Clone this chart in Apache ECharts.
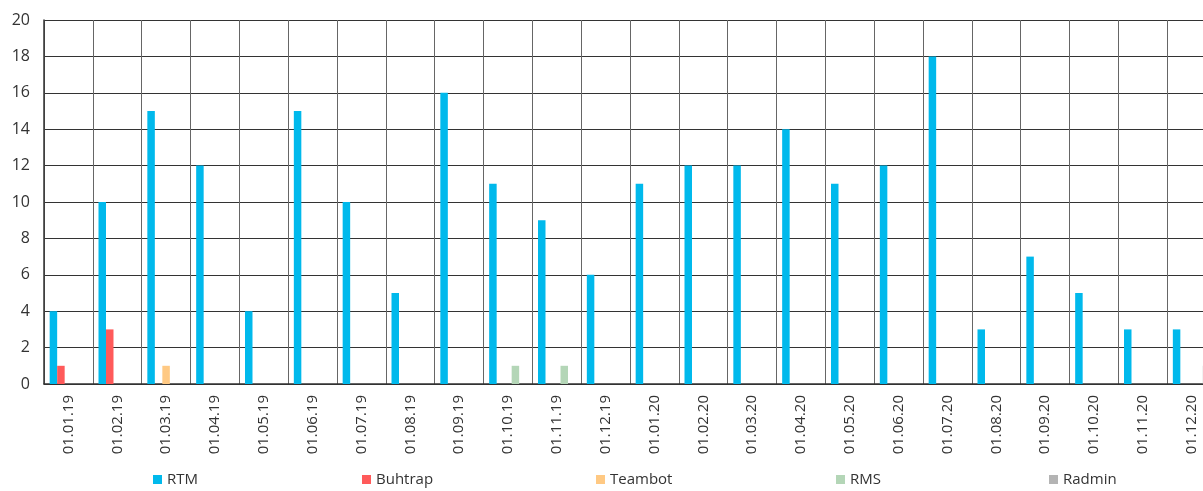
<!DOCTYPE html>
<html>
<head>
<meta charset="utf-8">
<script src="https://cdn.jsdelivr.net/npm/echarts@6/dist/echarts.min.js"></script>
<style>
  html, body { margin: 0; padding: 0; background: #fff; }
  #chart { width: 1203px; height: 491px; }
</style>
</head>
<body>
<div id="chart"></div>
<script>
// Monthly counts per tool family
const months = ['01.01.19','01.02.19','01.03.19','01.04.19','01.05.19','01.06.19','01.07.19','01.08.19',
  '01.09.19','01.10.19','01.11.19','01.12.19','01.01.20','01.02.20','01.03.20','01.04.20',
  '01.05.20','01.06.20','01.07.20','01.08.20','01.09.20','01.10.20','01.11.20','01.12.20'];
const rtm     = [4,10,15,12,4,15,10,5,16,11,9,6,11,12,12,14,11,12,18,3,7,5,3,3];
const buhtrap = [1,3,0,0,0,0,0,0,0,0,0,0,0,0,0,0,0,0,0,0,0,0,0,0];
const teambot = [0,0,1,0,0,0,0,0,0,0,0,0,0,0,0,0,0,0,0,0,0,0,0,0];
const rms     = [0,0,0,0,0,0,0,0,0,1,1,0,0,0,0,0,0,0,0,0,0,0,0,0];
const radmin  = [0,0,0,0,0,0,0,0,0,0,0,0,0,0,0,0,0,0,0,0,0,0,0,1];
const yTicks = { min: 0, max: 20, step: 2 };

const seriesDefs = [
  { name: 'RTM', data: rtm, color: '#00b9ec' },
  { name: 'Buhtrap', data: buhtrap, color: '#ff5a5a' },
  { name: 'Teambot', data: teambot, color: '#ffc983' },
  { name: 'RMS', data: rms, color: '#b4d6b7' },
  { name: 'Radmin', data: radmin, color: '#b4b4b4' }
];
const legendLeft = [153, 362, 596, 836, 1049];
const font = 'Open Sans';

const chart = echarts.init(document.getElementById('chart'), null, { renderer: 'canvas' });
chart.setOption({
  animation: false,
  // plot area runs a little past the right edge of the canvas
  grid: { left: 44, top: 20, width: 1172, height: 364, containLabel: false, outerBoundsMode: 'none' },
  legend: seriesDefs.map((s, i) => ({
    data: [s.name],
    left: legendLeft[i],
    top: 472,
    icon: 'rect',
    itemWidth: 9,
    itemHeight: 9,
    itemGap: 4,
    padding: 0,
    selectedMode: false,
    textStyle: { color: '#333', fontSize: 15, fontFamily: font }
  })),
  xAxis: {
    type: 'category',
    data: months,
    axisLine: { show: true, lineStyle: { color: '#333', width: 1.5 } },
    axisTick: { show: false },
    splitLine: { show: true, interval: 0, lineStyle: { color: '#666', width: 1 } },
    axisLabel: {
      interval: 0, rotate: 90, margin: 11,
      color: '#333', fontSize: 15, fontFamily: font
    }
  },
  yAxis: {
    type: 'value',
    min: yTicks.min, max: yTicks.max, interval: yTicks.step,
    axisLine: { show: true, lineStyle: { color: '#333', width: 1.5 } },
    axisTick: { show: false },
    splitLine: { show: true, lineStyle: { color: '#333', width: 1 } },
    axisLabel: { color: '#333', fontSize: 16, fontFamily: font, margin: 14 }
  },
  series: seriesDefs.map(s => ({
    name: s.name,
    type: 'bar',
    data: s.data,
    barWidth: 7.5,
    barGap: '0%',
    itemStyle: { color: s.color }
  }))
});
</script>
</body>
</html>
